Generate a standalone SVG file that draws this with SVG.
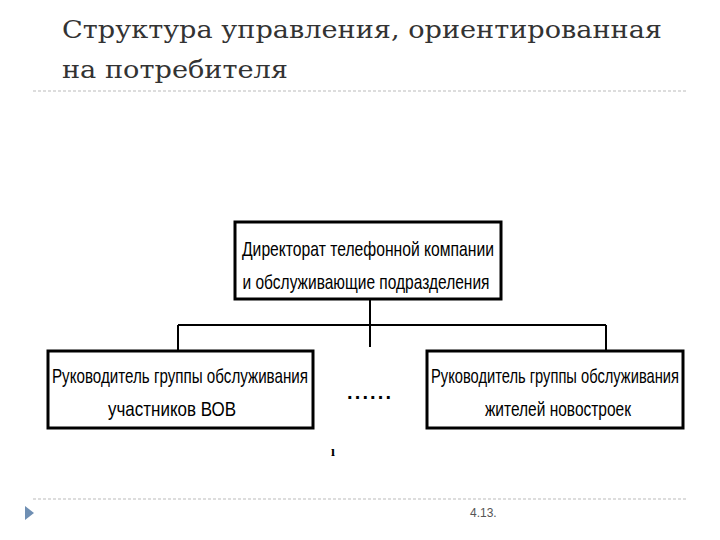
<svg xmlns="http://www.w3.org/2000/svg" width="720" height="540" viewBox="0 0 720 540">
<style>
.t{font-family:"DejaVu Serif","Liberation Serif",serif;font-size:25px;fill:#333}
.b{fill:#fff;stroke:#000;stroke-width:3}
.n{font-family:"Liberation Sans Narrow","Liberation Sans",sans-serif;font-size:21px;fill:#000;text-anchor:middle}
.c{stroke:#000;stroke-width:2;fill:none}
.d{stroke:#bbb;stroke-width:1;stroke-dasharray:3,2}
</style>
<rect width="720" height="540" fill="#fff"/>
<text class="t" x="62" y="38" textLength="600" lengthAdjust="spacingAndGlyphs">Структура управления, ориентированная</text>
<text class="t" x="62" y="78" textLength="226" lengthAdjust="spacingAndGlyphs">на потребителя</text>
<line class="d" x1="33" y1="91" x2="688" y2="91"/>
<g id="connectors">
<line class="c" x1="370" y1="299" x2="370" y2="347"/>
<line class="c" x1="178" y1="325" x2="606" y2="325"/>
<line class="c" x1="178" y1="325" x2="178" y2="350"/>
<line class="c" x1="606" y1="325" x2="606" y2="350"/>
</g>
<g id="top">
<rect class="b" x="235" y="222" width="266" height="77"/>
<text class="n" x="368" y="256" textLength="252" lengthAdjust="spacingAndGlyphs">Директорат телефонной компании</text>
<text class="n" x="366" y="289" textLength="247" lengthAdjust="spacingAndGlyphs">и обслуживающие подразделения</text>
</g>
<g id="left">
<rect class="b" x="48" y="351" width="265" height="77"/>
<text class="n" x="180" y="383" textLength="256" lengthAdjust="spacingAndGlyphs">Руководитель группы обслуживания</text>
<text class="n" x="172" y="416" textLength="128" lengthAdjust="spacingAndGlyphs">участников ВОВ</text>
</g>
<g id="right">
<rect class="b" x="427" y="351" width="256" height="77"/>
<text class="n" x="555" y="383" textLength="248" lengthAdjust="spacingAndGlyphs">Руководитель группы обслуживания</text>
<text class="n" x="558" y="416" textLength="146" lengthAdjust="spacingAndGlyphs">жителей новостроек</text>
</g>
<text x="369" y="399" font-family="Liberation Sans,sans-serif" font-size="20" text-anchor="middle" font-weight="bold" textLength="44" lengthAdjust="spacing">......</text>
<text x="331" y="456" font-family="Liberation Serif,serif" font-size="14" font-weight="bold">ı</text>
<line class="d" x1="33" y1="499" x2="688" y2="499"/>
<polygon points="25,506 25,520 34,513" fill="#6f8fb3"/>
<text x="470" y="517" font-family="Liberation Sans,sans-serif" font-size="12" fill="#555">4.13.</text>
</svg>
